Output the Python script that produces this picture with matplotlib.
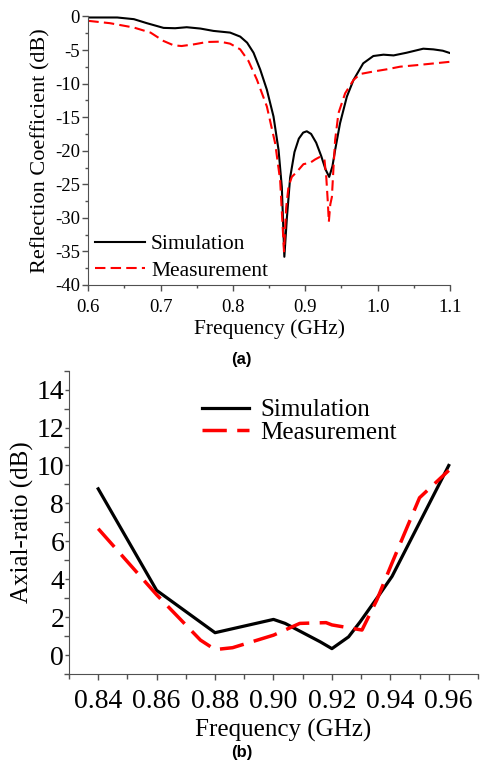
import matplotlib
matplotlib.use("Agg")
import matplotlib.pyplot as plt
from matplotlib.ticker import MultipleLocator, FormatStrFormatter

plt.rcParams['font.family'] = ['Liberation Serif', 'DejaVu Serif']
plt.rcParams['axes.unicode_minus'] = False

# (a) reflection coefficient
sim_f = [0.600, 0.640, 0.663, 0.681, 0.704, 0.720, 0.736, 0.755, 0.773, 0.796, 0.810, 0.8195,
         0.8284, 0.8376, 0.8468, 0.856, 0.863, 0.8675, 0.871, 0.8745, 0.879, 0.885, 0.891, 0.897,
         0.902, 0.908, 0.915, 0.922, 0.928, 0.933, 0.9375, 0.9412, 0.948, 0.9574, 0.9666, 0.980,
         0.994, 1.008, 1.022, 1.040, 1.063, 1.077, 1.090, 1.100]
sim_s11 = [-0.15, -0.15, -0.4, -1.0, -1.7, -1.75, -1.6, -1.8, -2.15, -2.4, -3.0, -3.9,
           -5.4, -7.9, -10.9, -14.9, -19.9, -25.4, -35.8, -30.0, -24.0, -20.2, -18.2, -17.3,
           -17.1, -17.5, -18.8, -20.8, -22.8, -23.9, -22.3, -19.9, -15.9, -11.95, -9.46, -6.98,
           -5.89, -5.69, -5.8, -5.4, -4.8, -4.9, -5.1, -5.45]

meas_f = [0.600, 0.630, 0.663, 0.686, 0.704, 0.718, 0.729, 0.746, 0.764, 0.782, 0.796, 0.810,
          0.8215, 0.833, 0.8468, 0.8583, 0.8652, 0.8705, 0.8735, 0.8767, 0.8813, 0.8882, 0.8974,
          0.9066, 0.9135, 0.9204, 0.9265, 0.929, 0.931, 0.9325, 0.9345, 0.9367, 0.939, 0.9412,
          0.9458, 0.955, 0.9666, 0.9758, 0.994, 1.0127, 1.031, 1.054, 1.077, 1.100]
meas_s11 = [-0.65, -1.0, -1.65, -2.4, -3.65, -4.3, -4.4, -4.15, -3.8, -3.75, -4.05, -4.9,
            -6.65, -9.4, -13.4, -18.9, -24.4, -35.0, -28.5, -25.4, -23.9, -23.15, -22.0,
            -21.8, -21.3, -20.9, -21.4, -24.0, -27.5, -30.6, -28.0, -26.9, -22.4, -18.4,
            -14.4, -11.45, -9.46, -8.57, -8.2, -7.87, -7.48, -7.25, -7.0, -6.75]

# (b) axial ratio
ar_sim_f = [0.84, 0.86, 0.88, 0.90, 0.904, 0.916, 0.92, 0.9257, 0.9297, 0.9366, 0.9406, 0.96]
ar_sim = [8.77, 3.42, 1.19, 1.89, 1.68, 0.71, 0.35, 0.97, 1.77, 3.27, 4.16, 10.0]

ar_meas_f = [0.84, 0.86, 0.875, 0.88, 0.886, 0.90, 0.909, 0.918, 0.92, 0.9303, 0.9354, 0.9406, 0.95, 0.96]
ar_meas = [6.67, 3.19, 0.8, 0.3, 0.4, 1.06, 1.68, 1.72, 1.6, 1.33, 2.92, 4.87, 8.3, 9.74]

spine_col = '#505050'

fig = plt.figure(figsize=(4.8, 7.63), dpi=100)

# ---- panel (a)
ax1 = fig.add_axes([0.1840, 0.6265, 0.7535, 0.3519])
ax1.plot(sim_f, sim_s11, color='black', lw=1.5, label='Simulation')
ax1.plot(meas_f, meas_s11, color='red', lw=1.5, dashes=(5, 2.5), label='Measurement')
ax1.set_xlim(0.6, 1.1)
ax1.set_ylim(-40, 0)
ax1.xaxis.set_major_locator(MultipleLocator(0.1))
ax1.xaxis.set_minor_locator(MultipleLocator(0.05))
ax1.yaxis.set_major_locator(MultipleLocator(5))
ax1.yaxis.set_minor_locator(MultipleLocator(2.5))
ax1.xaxis.set_major_formatter(FormatStrFormatter('%.1f'))
ax1.yaxis.set_major_formatter(FormatStrFormatter('%d'))
ax1.set_xlabel('Frequency (GHz)', fontsize=15.5, labelpad=2.5)
ax1.set_ylabel('Reflection Coefficient (dB)', fontsize=16, labelpad=3)
ax1.tick_params(labelsize=13.5, direction='out', length=4, width=1, color=spine_col, pad=2)
ax1.tick_params(axis='x', pad=6)
ax1.tick_params(which='minor', direction='out', length=2.5, width=1, color=spine_col)
for s in ['top', 'right']:
    ax1.spines[s].set_visible(False)
for s in ['left', 'bottom']:
    ax1.spines[s].set_color(spine_col)
ax1.legend(loc='upper left', bbox_to_anchor=(0.0185, 0.19), frameon=False, fontsize=15.5,
           handlelength=2.3, handletextpad=0.3, labelspacing=0.3, borderpad=0, borderaxespad=0)

fig.text(241.7 / 480, 1 - 360 / 763, '(a)', ha='center', va='center', fontsize=12,
         fontweight='bold', family='Liberation Sans')

# ---- panel (b)
ax2 = fig.add_axes([0.14375, 0.1163, 0.852, 0.398])
ax2.plot(ar_sim_f, ar_sim, color='black', lw=2.3, label='Simulation')
ax2.plot(ar_meas_f, ar_meas, color='red', lw=2.5, dashes=(7, 3), label='Measurement')
ax2.set_xlim(0.83, 0.97)
ax2.set_ylim(-1, 15)
ax2.xaxis.set_major_locator(MultipleLocator(0.02))
ax2.xaxis.set_minor_locator(MultipleLocator(0.01))
ax2.yaxis.set_major_locator(MultipleLocator(2))
ax2.yaxis.set_minor_locator(MultipleLocator(1))
ax2.set_xticks([0.84, 0.86, 0.88, 0.90, 0.92, 0.94, 0.96])
ax2.xaxis.set_major_formatter(FormatStrFormatter('%.2f'))
ax2.yaxis.set_major_formatter(FormatStrFormatter('%d'))
ax2.set_xlabel('Frequency (GHz)', fontsize=18)
ax2.set_ylabel('Axial-ratio (dB)', fontsize=18, labelpad=2)
ax2.tick_params(labelsize=20, direction='out', length=4, width=1, color=spine_col, pad=6.5)
ax2.tick_params(axis='y', length=3, pad=0.5)
ax2.tick_params(which='minor', direction='out', length=3.5, width=1, color=spine_col)
ax2.xaxis.set_label_coords((283 - 69) / 409, -0.146)
for s in ['top', 'right']:
    ax2.spines[s].set_visible(False)
for s in ['left', 'bottom']:
    ax2.spines[s].set_color(spine_col)
ax2.legend(loc='upper left', bbox_to_anchor=(0.325, 0.907), frameon=False, fontsize=18,
           handlelength=1.9, handletextpad=0.45, labelspacing=0.0, borderpad=0, borderaxespad=0)

fig.text(241.7 / 480, 1 - 753 / 763, '(b)', ha='center', va='center', fontsize=12,
         fontweight='bold', family='Liberation Sans')

fig.savefig('out.png', dpi=100)
